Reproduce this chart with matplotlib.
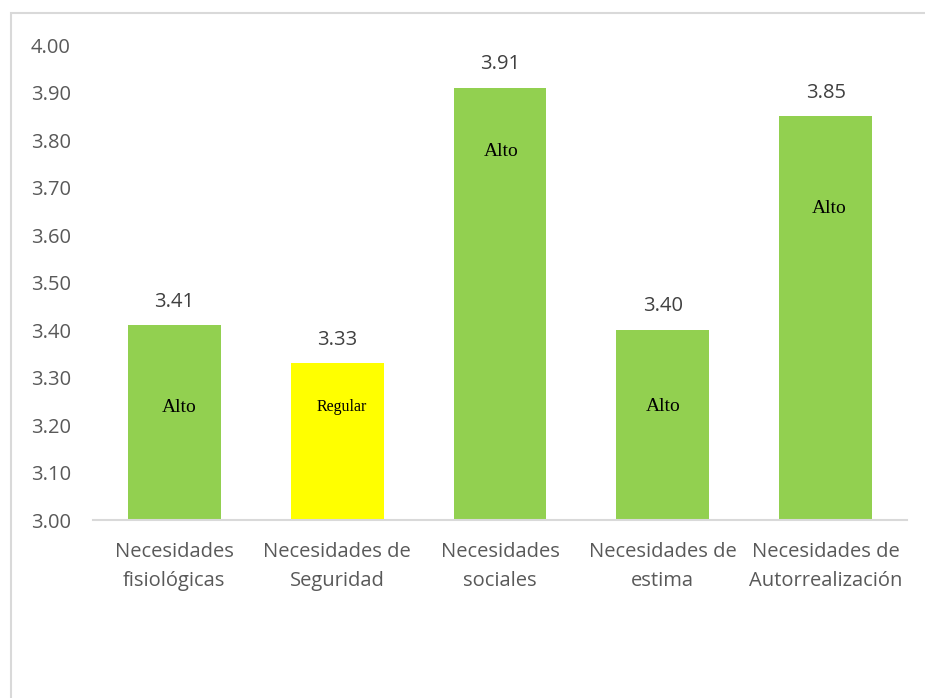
import matplotlib
matplotlib.use('Agg')
import matplotlib.pyplot as plt
from matplotlib.patches import Rectangle

# --- data ---
categories = ['Necesidades\nfisiológicas', 'Necesidades de\nSeguridad',
              'Necesidades\nsociales', 'Necesidades de\nestima',
              'Necesidades de\nAutorrealización']
values = [3.41, 3.33, 3.91, 3.40, 3.85]
levels = ['Alto', 'Regular', 'Alto', 'Alto', 'Alto']
bar_colors = ['#92D050', '#FFFF00', '#92D050', '#92D050', '#92D050']
yticks = [3.0, 3.1, 3.2, 3.3, 3.4, 3.5, 3.6, 3.7, 3.8, 3.9, 4.0]

# where the level text sits inside each bar (x offset, y in data units)
level_dx = [0.03, 0.03, 0.01, 0.0, 0.02]
level_y = [3.236, 3.238, 3.775, 3.24, 3.655]

grey = '#595959'
plt.rcParams['font.family'] = ['Open Sans', 'DejaVu Sans']

fig = plt.figure(figsize=(9.25, 6.98), dpi=100)
fig.patch.set_facecolor('white')

# chart frame
fig.patches.append(Rectangle((0.0124, -0.2), 1.2, 0.981 + 0.2,
                             transform=fig.transFigure, fill=False,
                             edgecolor='#D9D9D9', linewidth=1.5))

ax = fig.add_axes([0.1005, 0.255, 0.88, 0.6805])
x = list(range(len(values)))
ax.bar(x, [v - 3.0 for v in values], bottom=3.0, width=0.57,
       color=bar_colors, zorder=2)

ax.set_xlim(-0.5, len(values) - 0.5)
ax.set_ylim(3.0, 4.0)
ax.set_yticks(yticks)
ax.set_yticklabels([f'{t:.2f}' for t in yticks], fontsize=14.5, color=grey)
ax.set_xticks(x)
ax.set_xticklabels(categories, fontsize=14.5, color=grey, linespacing=1.6)
ax.tick_params(axis='both', length=0)
ax.tick_params(axis='y', pad=16)
ax.tick_params(axis='x', pad=16)

for side in ['top', 'right', 'left']:
    ax.spines[side].set_visible(False)
ax.spines['bottom'].set_color('#D9D9D9')
ax.spines['bottom'].set_linewidth(1.5)

# value labels above bars
for xi, v in zip(x, values):
    ax.annotate(f'{v:.2f}', (xi, v), xytext=(0, 17), textcoords='offset points',
                ha='center', va='center', fontsize=14.5, color='#404040')

# level labels inside bars
for xi, dx, ly, lv in zip(x, level_dx, level_y, levels):
    ax.text(xi + dx, ly, lv, ha='center', va='center',
            family='Liberation Serif', fontsize=14 if lv == 'Alto' else 11.5,
            color='black')

plt.savefig('out.png', dpi=100, facecolor='white')
